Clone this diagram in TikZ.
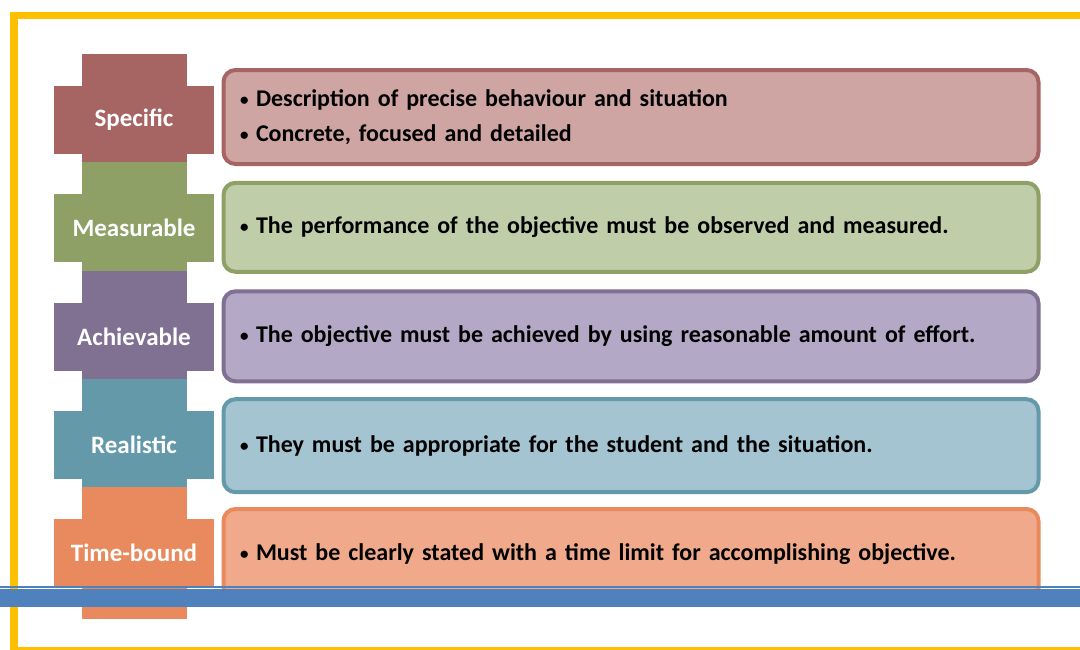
\documentclass[tikz,border=0pt]{standalone}
\usepackage{fontspec}
\setmainfont{Carlito}
\definecolor{specD}{RGB}{166,100,98}
\definecolor{specL}{RGB}{207,165,164}
\definecolor{measD}{RGB}{143,160,102}
\definecolor{measL}{RGB}{191,205,169}
\definecolor{achD}{RGB}{128,112,146}
\definecolor{achL}{RGB}{179,169,198}
\definecolor{realD}{RGB}{99,153,169}
\definecolor{realL}{RGB}{165,196,209}
\definecolor{timeD}{RGB}{233,138,94}
\definecolor{timeL}{RGB}{241,169,139}
\definecolor{frameY}{RGB}{255,192,0}
\definecolor{rule}{RGB}{79,129,189}
\newcommand{\tightsp}{\spaceskip=0.18em plus 0.05em\relax}
\tikzset{
  tab/.style={rectangle,inner sep=0pt,minimum width=105pt,minimum height=132pt},
  bar/.style={rectangle,inner sep=0pt,minimum width=160pt,minimum height=68pt,
    text=white,font=\fontsize{25}{28}\selectfont\bfseries},
  info/.style={rectangle,rounded corners=12pt,line width=4pt,minimum width=815pt,
    minimum height=91pt,text width=782pt,inner xsep=16pt,align=left,
    font=\fontsize{24}{35}\selectfont\bfseries\tightsp},
}
\newcommand{\bul}{\makebox[16pt][l]{\raisebox{1pt}{\fontsize{17}{17}\selectfont\textbullet}}}
\begin{document}
\begin{tikzpicture}[x=1pt,y=-1pt]
	    \useasboundingbox (0,0) rectangle (1080,649);
	    \clip (0,0) rectangle (1080,649);
	    \draw[frameY,line width=7.5pt](1090,15.5)--(14,15.5)--(14,650.5)--(1090,650.5);
	    % letters
	    \node[tab,fill=specD] (specT) at (134.5,120) {};
	    \node[bar,fill=specD] (spec) at (134,120) {Specific};
	    \node[tab,fill=measD] (measT) at (134.5,228.3) {};
	    \node[bar,fill=measD] (meas) at (134,228.3) {Measurable};
	    \node[tab,fill=achD] (achT) at (134.5,336.5) {};
	    \node[bar,fill=achD] (ach) at (134,336.5) {Achievable};
	    \node[tab,fill=realD] (realT) at (134.5,444.8) {};
	    \node[bar,fill=realD] (real) at (134,444.8) {Realistic};
	    \node[tab,fill=timeD] (timeT) at (134.5,553) {};
	    \node[bar,fill=timeD] (time) at (134,553) {Time-bound};
	    % descriptions
	    \node[info,draw=specD,fill=specL,minimum height=94pt] (specI) at (631,117)
	      {\bul Description of precise behaviour and situation\\\bul Concrete, focused and detailed};
	    \node[info,draw=measD,fill=measL,minimum height=89pt] (measI) at (631,227.3)
	      {\bul The performance of the objective must be observed and measured.};
	    \node[info,draw=achD,fill=achL,minimum height=90pt] (achI) at (631,336.3)
	      {\bul The objective must be achieved by using reasonable amount of effort.};
	    \node[info,draw=realD,fill=realL,minimum height=93pt] (realI) at (631,445.7)
	      {\bul They must be appropriate for the student and the situation.};
	    \node[info,draw=timeD,fill=timeL] (timeI) at (631,554.5)
	      {\bul Must be clearly stated with a time limit for accomplishing objective.};
	    % page rule
	    \fill[rule](0,586)rectangle(1080,587.8);
	    \fill[rule](0,589.3)rectangle(1080,606.7);
	\end{tikzpicture}
\end{document}
